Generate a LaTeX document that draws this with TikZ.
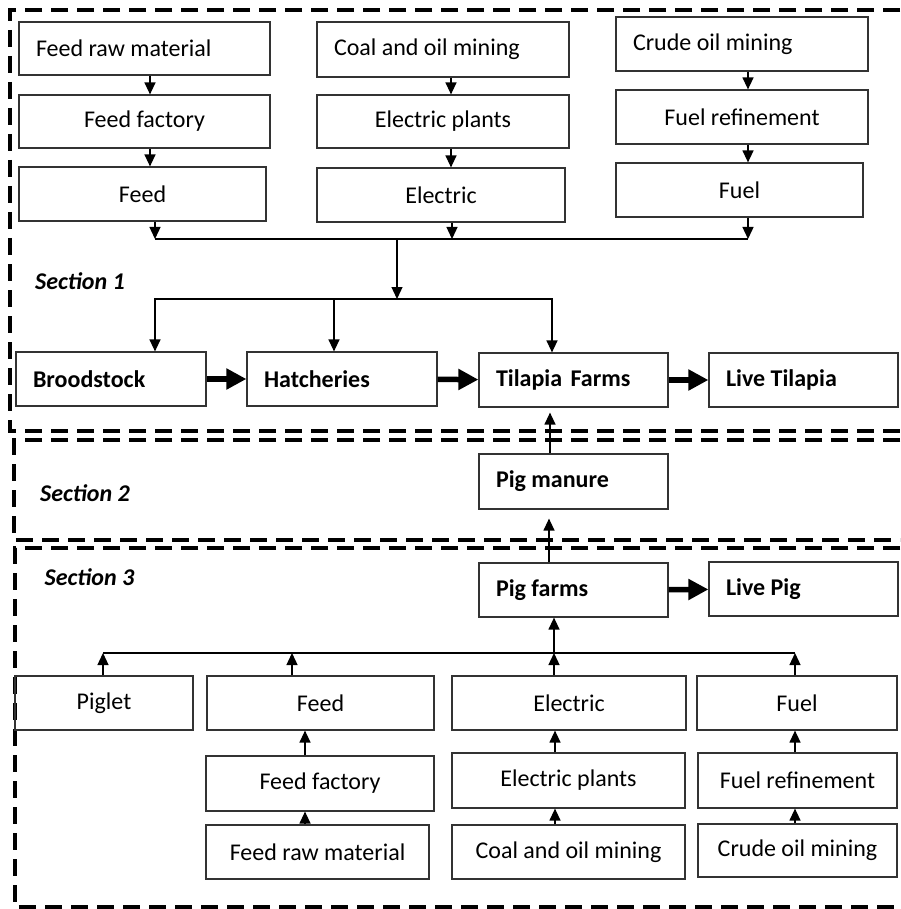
\documentclass[tikz,border=0pt]{standalone}
\usepackage{fontspec}
\setmainfont{Carlito}
\usetikzlibrary{arrows.meta}

\begin{document}
\begin{tikzpicture}[x=1pt,y=-1pt,
  box/.style={draw=black!80, line width=1.2pt, inner sep=0pt,
    font=\fontsize{24}{28}\selectfont},
  lbox/.style={box, align=flush left, inner xsep=17pt},
  bbox/.style={lbox, font=\fontsize{24}{28}\selectfont\bfseries},
  conn/.style={line width=1.3pt},
  arr/.style={conn, -{Triangle[length=12pt,width=11pt]}},
  fat/.style={line width=5.5pt, -{Triangle[length=20pt,width=20pt]}},
  secline/.style={line width=4pt, dash pattern=on 17pt off 9pt},
  sec/.style={font=\fontsize{24}{28}\selectfont\bfseries\itshape}]
  \useasboundingbox (0,0) rectangle (900,909);

  % Section frames, open on the right
  \draw[secline] (900,10) -- (10,10) -- (10,431) -- (900,431);
  \draw[secline] (900,440) -- (14,440) -- (14,540) -- (900,540);
  \draw[secline] (900,548) -- (15,548) -- (15,907) -- (900,907);
  \node[sec] (secA) at (80,281) {Section 1};
  \node[sec] (secB) at (85,493) {Section 2};
  \node[sec] (secC) at (89.5,577) {Section 3};

  % Inputs of the fish farms
  \node[lbox, text width=217pt, minimum height=53pt] (frmA) at (144.5,48.5) {Feed raw material};
  \node[box, minimum width=251pt, minimum height=53pt] (ffA) at (144.5,121.5) {Feed factory};
  \node[box, minimum width=247pt, minimum height=54pt] (feedA) at (142.5,194) {Feed};
  \node[lbox, text width=218pt, minimum height=55pt] (coalA) at (443,49.5) {Coal and oil mining};
  \node[box, minimum width=252pt, minimum height=53pt] (plantA) at (443,121.5) {Electric plants};
  \node[box, minimum width=248pt, minimum height=54pt] (elecA) at (441,195) {Electric};
  \node[lbox, text width=218pt, minimum height=54pt] (crudeA) at (742,44) {Crude oil mining};
  \node[box, minimum width=252pt, minimum height=54pt] (refA) at (742,117) {Fuel refinement};
  \node[box, minimum width=247pt, minimum height=54pt] (fuelA) at (739.5,190) {Fuel};

  % Fish chain
  \node[bbox, text width=156pt, minimum height=54pt] (brood) at (111,379) {Broodstock};
  \node[bbox, text width=156pt, minimum height=54pt] (hatch) at (342,379) {Hatcheries};
  \node[bbox, text width=155pt, minimum height=54pt] (tilapia) at (573.5,380) {Tilapia\hspace{3pt} Farms};
  \node[bbox, text width=155pt, minimum height=54pt] (livefish) at (803.5,380) {Live Tilapia};
  \node[bbox, text width=155pt, minimum height=55pt] (manure) at (573.5,481.5) {Pig manure};
  \node[bbox, text width=155pt, minimum height=54pt] (pigfarm) at (573.5,590) {Pig farms};
  \node[bbox, text width=155pt, minimum height=54pt] (livepig) at (803.5,589) {Live Pig};

  % Inputs of the pig farms
  \node[box, minimum width=178pt, minimum height=54pt] (piglet) at (104,703) {Piglet};
  \node[box, minimum width=227pt, minimum height=54pt] (feedB) at (320.5,703) {Feed};
  \node[box, minimum width=228pt, minimum height=55pt] (ffB) at (320,783.5) {Feed factory};
  \node[box, minimum width=223pt, minimum height=54pt] (frmB) at (317.5,852) {Feed raw material};
  \node[box, minimum width=234pt, minimum height=54pt] (elecB) at (569,703) {Electric};
  \node[box, minimum width=233pt, minimum height=55pt] (plantB) at (568.5,780.5) {Electric plants};
  \node[box, minimum width=233pt, minimum height=54pt] (coalB) at (568.5,852) {Coal and oil mining};
  \node[box, minimum width=200pt, minimum height=54pt] (fuelB) at (797,703) {Fuel};
  \node[box, minimum width=199pt, minimum height=55pt] (refB) at (797.5,780.5) {Fuel refinement};
  \node[box, minimum width=199pt, minimum height=53pt] (crudeB) at (797.5,850.5) {Crude oil mining};

  % Supply chains, top
  \foreach \a/\b/\s in {frmA/ffA/5.5, ffA/feedA/5.5, coalA/plantA/8,
                        plantA/elecA/8, crudeA/refA/6, refA/fuelA/6}{
    \draw[arr] ([xshift=\s pt]\a.south) -- ([xshift=\s pt]\a.south |- \b.north);
  }
  \coordinate (busA) at (397,239);
  \coordinate (busB) at (397,299);
  \foreach \a/\s in {feedA/12.5, elecA/11, fuelA/8.5}{
    \draw[arr] ([xshift=\s pt]\a.south) -- ([xshift=\s pt]\a.south |- busA);
  }
  \draw[conn] ([xshift=12.5pt]feedA.south |- busA) -- ([xshift=8.5pt]fuelA.south |- busA);
  \draw[arr] (busA) -- (busB);
  \draw[arr] (busB) -| ([xshift=44pt]brood.north);
  \draw[arr] (busB) -| ([xshift=-8pt]hatch.north);
  \draw[arr] (busB) -| ([xshift=-21.5pt]tilapia.north);

  % Main flows
  \draw[fat] (brood) -- (hatch);
  \draw[fat] (hatch) -- (tilapia);
  \draw[fat] (tilapia) -- (livefish);
  \draw[fat] (pigfarm) -- (livepig);
  \draw[arr, shorten >=5pt] ([xshift=-23.5pt]manure.north) -- ([xshift=-23.5pt]manure.north |- tilapia.south);
  \draw[arr, shorten >=9pt] ([xshift=-24.5pt]pigfarm.north) -- ([xshift=-24.5pt]pigfarm.north |- manure.south);

  % Supply chains, bottom
  \foreach \a/\b/\s in {frmB/ffB/-12.5, ffB/feedB/-15, coalB/plantB/-13.5,
                        plantB/elecB/-13.5, crudeB/refB/-2.5, refB/fuelB/-2.5}{
    \draw[arr] ([xshift=\s pt]\a.north) -- ([xshift=\s pt]\a.north |- \b.south);
  }
  \coordinate (busC) at (554,653);
  \foreach \a/\s in {piglet/-1, feedB/-28.5, elecB/-15, fuelB/-2}{
    \draw[arr] ([xshift=\s pt]\a.north) -- ([xshift=\s pt]\a.north |- busC);
  }
  \draw[conn] ([xshift=-1pt]piglet.north |- busC) -- ([xshift=-2pt]fuelB.north |- busC);
  \draw[arr] (busC) -- (busC |- pigfarm.south);
\end{tikzpicture}
\end{document}
